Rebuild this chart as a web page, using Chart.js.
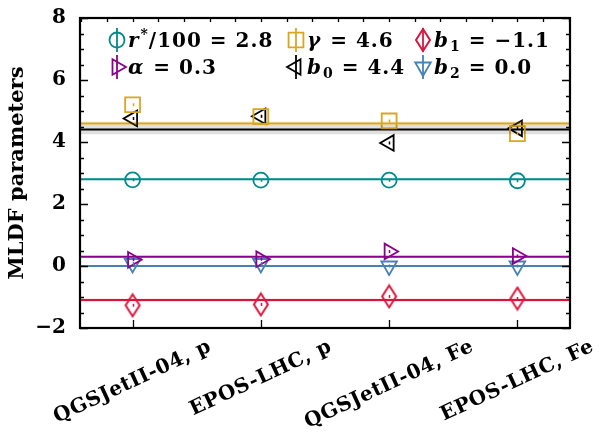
<!DOCTYPE html>
<html>
<head>
<meta charset="utf-8">
<script src="https://cdn.jsdelivr.net/npm/chart.js"></script>
<style>html,body{margin:0;padding:0;background:#fff;}</style>
</head>
<body>
<canvas id="mldfChart" width="604" height="435" style="width:604px;height:435px"></canvas>
<script>
// models on the x axis
const categories = ['QGSJetII-04, p', 'EPOS-LHC, p', 'QGSJetII-04, Fe', 'EPOS-LHC, Fe'];
const xPos = [0, 1, 2, 3];

// per-model fitted parameters
const rStar = [2.78, 2.77, 2.77, 2.75];
const gamma = [5.2, 4.82, 4.68, 4.27];
const b1 = [-1.27, -1.24, -0.98, -1.05];
const alpha = [0.2, 0.22, 0.47, 0.32];
const b0 = [4.76, 4.83, 3.97, 4.44];
const b2 = [0.08, 0.08, 0.0, 0.0];

// combined values (horizontal lines) and their uncertainty bands
const rStarFit = 2.8, gammaFit = 4.6, b1Fit = -1.1, alphaFit = 0.3, b0Fit = 4.4, b2Fit = 0.0;
const rStarErr = 0.03, gammaErr = 0.07, b1Err = 0.05, alphaErr = 0.03, b0Err = 0.15, b2Err = 0.03;

const yTicks = [-2, 0, 2, 4, 6, 8];

const FONT = '"DejaVu Serif", serif';
const X_MIN = -0.41, X_MAX = 3.41;

const teal = '#008b8b', gold = '#daa520', crimson = '#dc143c';
const purple = '#8b008b', steel = '#4682b4', black = '#000000';

function hexA(hex, a) {
    const n = parseInt(hex.slice(1), 16);
    return `rgba(${(n >> 16) & 255},${(n >> 8) & 255},${n & 255},${a})`;
}

// tall narrow diamond marker
function diamondCanvas(color) {
    const c = document.createElement('canvas');
    c.width = 18; c.height = 26;
    const g = c.getContext('2d');
    g.strokeStyle = color;
    g.lineWidth = 2;
    g.beginPath();
    g.moveTo(9, 2); g.lineTo(16, 13); g.lineTo(9, 24); g.lineTo(2, 13); g.closePath();
    g.stroke();
    return c;
}

const params = [
    { name: 'rStar', vals: rStar, fit: rStarFit, err: rStarErr, color: teal, style: 'circle', radius: 7.5, rot: 0 },
    { name: 'gamma', vals: gamma, fit: gammaFit, err: gammaErr, color: gold, style: 'rect', radius: 10.5, rot: 0 },
    { name: 'b1', vals: b1, fit: b1Fit, err: b1Err, color: crimson, style: diamondCanvas(crimson), radius: 9, rot: 0 },
    { name: 'alpha', vals: alpha, fit: alphaFit, err: alphaErr, color: purple, style: 'triangle', radius: 9, rot: 90 },
    { name: 'b0', vals: b0, fit: b0Fit, err: b0Err, color: black, style: 'triangle', radius: 9, rot: -90 },
    { name: 'b2', vals: b2, fit: b2Fit, err: b2Err, color: steel, style: 'triangle', radius: 9, rot: 180 }
];

const datasets = [];
// bands
params.forEach(p => {
    const bandColor = p.name === 'b0' ? 'rgba(0,0,0,0.12)' : hexA(p.color, 0.15);
    datasets.push({
        data: [{ x: X_MIN, y: p.fit + p.err }, { x: X_MAX, y: p.fit + p.err }],
        borderWidth: 0, pointRadius: 0, fill: false, borderColor: 'transparent'
    });
    datasets.push({
        data: [{ x: X_MIN, y: p.fit - p.err }, { x: X_MAX, y: p.fit - p.err }],
        borderWidth: 0, pointRadius: 0, fill: '-1', borderColor: 'transparent', backgroundColor: bandColor
    });
});
// points
params.forEach(p => {
    datasets.push({
        data: xPos.map((x, i) => ({ x: x, y: p.vals[i] })),
        showLine: false,
        pointStyle: p.style,
        pointRadius: p.radius,
        pointRotation: p.rot,
        pointBorderColor: p.color,
        pointBackgroundColor: 'transparent',
        pointBorderWidth: 1.8
    });
});
// fit lines
params.forEach(p => {
    datasets.push({
        data: [{ x: X_MIN, y: p.fit }, { x: X_MAX, y: p.fit }],
        borderColor: p.color, borderWidth: 2, pointRadius: 0, fill: false
    });
});

function fmt(v) {
    const s = Math.abs(v).toFixed(1);
    return v < 0 ? '\u2212' + s : s;
}

const legendItems = [
    { p: params[0], segs: [['r', 'i'], ['*', 'sup'], ['/100 = ' + fmt(rStarFit), '']] },
    { p: params[1], segs: [['\u03b3', 'i'], [' = ' + fmt(gammaFit), '']] },
    { p: params[2], segs: [['b', 'i'], ['1', 'sub'], [' = ' + fmt(b1Fit), '']] },
    { p: params[3], segs: [['\u03b1', 'i'], [' = ' + fmt(alphaFit), '']] },
    { p: params[4], segs: [['b', 'i'], ['0', 'sub'], [' = ' + fmt(b0Fit), '']] },
    { p: params[5], segs: [['b', 'i'], ['2', 'sub'], [' = ' + fmt(b2Fit), '']] }
];

function drawMarker(ctx, p, x, y) {
    ctx.save();
    ctx.strokeStyle = p.color;
    ctx.fillStyle = 'rgba(0,0,0,0)';
    ctx.lineWidth = 1.8;
    // error bar style line through marker
    ctx.beginPath();
    ctx.moveTo(x, y - 12); ctx.lineTo(x, y + 12);
    ctx.stroke();
    Chart.helpers.drawPoint(ctx, {
        pointStyle: p.style, radius: p.radius, rotation: p.rot, borderWidth: 1.8
    }, x, y);
    ctx.restore();
}

const framePlugin = {
    id: 'framePlugin',
    afterDraw(chart) {
        const ctx = chart.ctx;
        const a = chart.chartArea;
        const xs = chart.scales.x, ys = chart.scales.y;
        ctx.save();

        // small error bars at each point centre
        params.forEach(p => {
            ctx.strokeStyle = p.color;
            ctx.lineWidth = 1.5;
            ctx.beginPath();
            xPos.forEach((x, i) => {
                const px = Math.round(xs.getPixelForValue(x)) + 0.5;
                const py = ys.getPixelForValue(p.vals[i]);
                ctx.moveTo(px, py - 1.5); ctx.lineTo(px, py + 1.5);
            });
            ctx.stroke();
        });

        ctx.strokeStyle = '#000';
        ctx.lineWidth = 1.3;
        // inward ticks, left and right
        ctx.beginPath();
        for (let v = -2; v <= 8.001; v += 0.5) {
            const py = Math.round(ys.getPixelForValue(v)) + 0.5;
            const len = Math.abs(v % 2) < 1e-6 ? 8 : 4;
            ctx.moveTo(a.left, py); ctx.lineTo(a.left + len, py);
            ctx.moveTo(a.right, py); ctx.lineTo(a.right - len, py);
        }
        // top minor ticks
        for (let v = -0.4; v <= X_MAX; v += 0.2) {
            const px = Math.round(xs.getPixelForValue(v)) + 0.5;
            ctx.moveTo(px, a.top); ctx.lineTo(px, a.top + 4);
        }
        // bottom ticks at categories
        xPos.forEach(v => {
            const px = Math.round(xs.getPixelForValue(v)) + 0.5;
            ctx.moveTo(px, a.bottom); ctx.lineTo(px, a.bottom - 8);
        });
        ctx.stroke();
        // frame
        ctx.lineWidth = 2.2;
        ctx.strokeRect(a.left, a.top, a.right - a.left, a.bottom - a.top);

        // rotated category labels
        const ang = 25 * Math.PI / 180;
        ctx.fillStyle = '#000';
        ctx.font = 'bold 20px ' + FONT;
        ctx.letterSpacing = '0.6px';
        ctx.textAlign = 'center';
        ctx.textBaseline = 'middle';
        categories.forEach((lab, i) => {
            const w = ctx.measureText(lab).width;
            const h = 17;
            const H = w * Math.sin(ang) + h * Math.cos(ang);
            const cx = xs.getPixelForValue(xPos[i]);
            const cy = a.bottom + 10 + H / 2;
            ctx.save();
            ctx.translate(cx, cy);
            ctx.rotate(-ang);
            ctx.fillText(lab, 0, 0);
            ctx.restore();
        });

        // legend
        const colX = [117, 296, 423];
        const rowY = [40, 67];
        ctx.textAlign = 'left';
        ctx.textBaseline = 'alphabetic';
        ctx.letterSpacing = '1px';
        legendItems.forEach((it, k) => {
            const mx = colX[k % 3], my = rowY[Math.floor(k / 3)];
            drawMarker(ctx, it.p, mx, my);
            let tx = mx + 11;
            const base = my + 7;
            ctx.fillStyle = '#000';
            it.segs.forEach(([t, kind]) => {
                let dy = 0;
                if (kind === 'i') ctx.font = 'italic bold 20px ' + FONT;
                else if (kind === 'sup') { ctx.font = 'bold 14px ' + FONT; dy = -8; }
                else if (kind === 'sub') { ctx.font = 'bold 14px ' + FONT; dy = 4; }
                else ctx.font = 'bold 20px ' + FONT;
                ctx.fillText(t, tx, base + dy);
                tx += ctx.measureText(t).width + (kind === 'i' ? 1 : 0);
            });
        });
        ctx.letterSpacing = '0px';
        ctx.restore();
    }
};

new Chart(document.getElementById('mldfChart').getContext('2d'), {
    type: 'line',
    data: { datasets: datasets },
    options: {
        responsive: false,
        animation: false,
        layout: { padding: { top: 13, right: 34, left: 0, bottom: 0 } },
        plugins: { legend: { display: false }, tooltip: { enabled: false } },
        scales: {
            x: {
                type: 'linear', min: X_MIN, max: X_MAX,
                grid: { display: false }, border: { display: false },
                ticks: { display: false },
                afterFit(s) { s.height = 107; }
            },
            y: {
                type: 'linear', min: -2, max: 8,
                grid: { display: false }, border: { display: false },
                afterBuildTicks(s) { s.ticks = yTicks.map(v => ({ value: v })); },
                ticks: {
                    color: '#000', padding: 6,
                    font: { family: FONT, size: 20, weight: 'bold' },
                    callback: v => v < 0 ? '\u2212' + Math.abs(v) : String(v)
                },
                title: {
                    display: true, text: 'MLDF parameters', color: '#000',
                    font: { family: FONT, size: 21, weight: 'bold' },
                    padding: { top: 5, bottom: 2 }
                },
                afterFit(s) { s.width = 80; }
            }
        }
    },
    plugins: [framePlugin]
});
</script>
</body>
</html>
